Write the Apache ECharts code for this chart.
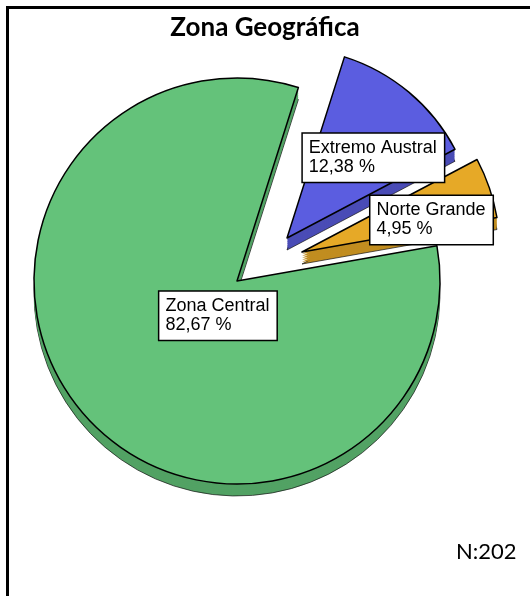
<!DOCTYPE html>
<html>
<head>
<meta charset="utf-8">
<script src="https://cdn.jsdelivr.net/npm/echarts@6/dist/echarts.min.js"></script>
<style>
  html, body { margin: 0; padding: 0; background: #fff; }
  #frame { position: absolute; left: 6px; top: 6px; right: 0; bottom: 0;
           border-top: 3px solid #000; border-left: 3px solid #000; }
  #chart { position: absolute; left: 0; top: 0; width: 530px; height: 596px; }
</style>
</head>
<body>
<div id="frame"></div>
<div id="chart"></div>
<script>
// Respondents by geographic zone (counts)
const categories = ['Extremo Austral', 'Norte Grande', 'Zona Central'];
const counts = [25, 10, 167];
const chartTitle = 'Zona Geográfica';

// Face and side colours for each zone
const faceColors = ['#5b5de0', '#e6a927', '#64c27a'];
const sideColors = ['#4a4cb6', '#c18d20', '#52a264'];

// Where each (exploded) slice sits, and how its label is nudged
const sliceLayout = [
  { cx: 287, cy: 238, r: 190, dx: -47, dy: -5 },
  { cx: 302, cy: 252, r: 198, dx: -28, dy: 1 },
  { cx: 237, cy: 281, r: 203, dx: 1,   dy: -34 }
];
const depth = 12;
const startAngle = 72.4;

const total = counts.reduce((a, b) => a + b, 0);

function sliceSeries(k, offset, isTop) {
  const L = sliceLayout[k];
  const bottom = offset === depth;
  return {
    type: 'pie',
    silent: true,
    animation: false,
    avoidLabelOverlap: false,
    startAngle: startAngle,
    clockwise: true,
    center: [L.cx, L.cy + offset],
    radius: L.r,
    z: isTop ? 3 : 2,
    labelLine: { show: false },
    labelLayout: isTop ? { dx: L.dx, dy: L.dy, align: 'left', verticalAlign: 'middle' } : undefined,
    data: categories.map((name, i) => {
      const mine = i === k;
      return {
        name: name,
        value: counts[i],
        itemStyle: mine
          ? (isTop
              ? { color: faceColors[k], borderColor: '#000', borderWidth: 1.5 }
              : { color: sideColors[k],
                  borderColor: bottom ? 'rgba(20,20,20,0.7)' : sideColors[k],
                  borderWidth: bottom ? 1 : 0 })
          : { color: 'rgba(0,0,0,0)', borderWidth: 0 },
        label: {
          show: isTop && mine,
          position: 'inside',
          align: 'left',
          verticalAlign: 'middle',
          formatter: p => p.name + '\n' + p.percent.toFixed(2).replace('.', ',') + ' %',
          color: '#000',
          fontFamily: 'Liberation Sans',
          fontSize: 18,
          lineHeight: 19,
          backgroundColor: '#fff',
          borderColor: '#000',
          borderWidth: 1.5,
          padding: [5, 7, 5, 6]
        }
      };
    })
  };
}

const series = [];
for (let off = depth; off > 0; off -= 2) {
  for (let k = 0; k < categories.length; k++) series.push(sliceSeries(k, off, false));
}
for (let k = categories.length - 1; k >= 0; k--) series.push(sliceSeries(k, 0, true));

const chart = echarts.init(document.getElementById('chart'), null, { renderer: 'canvas' });
chart.setOption({
  title: [
    {
      text: chartTitle,
      left: 'center',
      top: 10,
      textStyle: { fontFamily: 'Lato', fontWeight: 'bold', fontSize: 26, color: '#000' }
    },
    {
      text: 'N:' + total,
      left: 451,
      top: 536,
      textStyle: { fontFamily: 'Lato', fontWeight: 'normal', fontSize: 22, color: '#000' }
    }
  ],
  series: series
});
</script>
</body>
</html>
